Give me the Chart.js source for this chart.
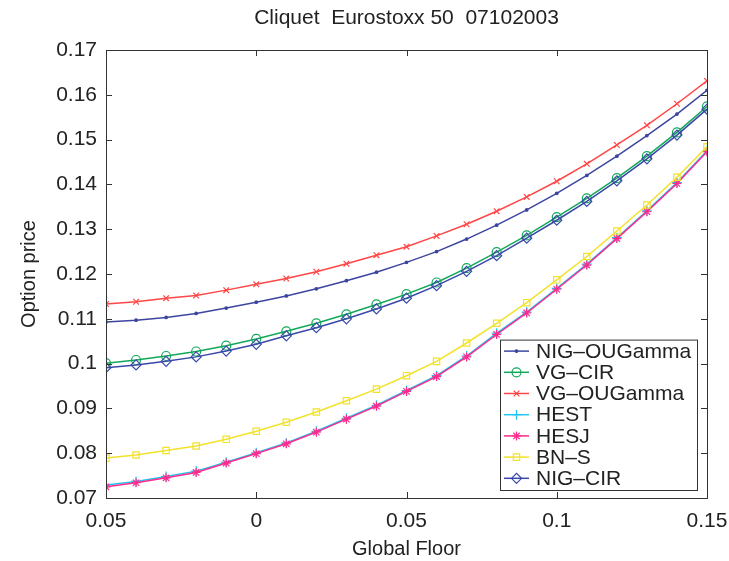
<!DOCTYPE html>
<html>
<head>
<meta charset="utf-8">
<script src="https://cdn.jsdelivr.net/npm/chart.js@4/dist/chart.umd.min.js"></script>
<style>
  html, body { margin: 0; padding: 0; background: #fff; }
  #wrap { width: 729px; height: 561px; position: relative; }
</style>
</head>
<body>
<div id="wrap"><canvas id="c"></canvas></div>
<script>
// global floor values (x axis)
const floors = [-0.05, -0.04, -0.03, -0.02, -0.01, 0, 0.01, 0.02, 0.03, 0.04, 0.05,
  0.06, 0.07, 0.08, 0.09, 0.10, 0.11, 0.12, 0.13, 0.14, 0.15];

const nigOUGamma = [0.1093, 0.1097, 0.1103, 0.1112, 0.1124, 0.1137, 0.1151, 0.1167, 0.1185, 0.1204, 0.1226,
  0.1250, 0.1278, 0.1309, 0.1343, 0.1380, 0.1420, 0.1463, 0.1509, 0.1557, 0.1610];
const vgCIR = [0.1001, 0.1008, 0.1017, 0.1027, 0.1040, 0.1055, 0.1072, 0.1090, 0.1110, 0.1132, 0.1155,
  0.1181, 0.1213, 0.1249, 0.1286, 0.1327, 0.1369, 0.1414, 0.1463, 0.1516, 0.1574];
const vgOUGamma = [0.1133, 0.1138, 0.1146, 0.1152, 0.1164, 0.1177, 0.1190, 0.1205, 0.1223, 0.1242, 0.1261,
  0.1285, 0.1311, 0.1340, 0.1372, 0.1407, 0.1446, 0.1488, 0.1532, 0.1580, 0.1631];
const hest = [0.0729, 0.0737, 0.0748, 0.0760, 0.0780, 0.0801, 0.0823, 0.0849, 0.0878, 0.0907, 0.0940,
  0.0973, 0.1017, 0.1068, 0.1115, 0.1168, 0.1222, 0.1281, 0.1341, 0.1404, 0.1475];
const hesj = [0.0725, 0.0734, 0.0745, 0.0757, 0.0778, 0.0799, 0.0821, 0.0847, 0.0876, 0.0905, 0.0938,
  0.0971, 0.1015, 0.1065, 0.1113, 0.1166, 0.1220, 0.1279, 0.1339, 0.1402, 0.1473];
const bns = [0.0789, 0.0796, 0.0806, 0.0816, 0.0831, 0.0849, 0.0869, 0.0892, 0.0917, 0.0943, 0.0973,
  0.1005, 0.1046, 0.1090, 0.1136, 0.1187, 0.1239, 0.1296, 0.1354, 0.1416, 0.1484];
const nigCIR = [0.0991, 0.0997, 0.1005, 0.1015, 0.1028, 0.1043, 0.1062, 0.1080, 0.1100, 0.1122, 0.1146,
  0.1174, 0.1206, 0.1241, 0.1280, 0.1320, 0.1362, 0.1408, 0.1457, 0.1510, 0.1568];

const xTicks = [-0.05, 0, 0.05, 0.1, 0.15];
const xTickLabels = ['0.05', '0', '0.05', '0.1', '0.15'];
const yTicks = [0.07, 0.08, 0.09, 0.1, 0.11, 0.12, 0.13, 0.14, 0.15, 0.16, 0.17];
const yTickLabels = ['0.07', '0.08', '0.09', '0.1', '0.11', '0.12', '0.13', '0.14', '0.15', '0.16', '0.17'];
const titleText = 'Cliquet  Eurostoxx 50  07102003';

const FONT = "'Liberation Sans', Arial, Helvetica, sans-serif";
const TXT = '#222';

const series = [
  { label: 'NIG\u2013OUGamma', data: nigOUGamma, color: '#3c46a0', style: 'circle', r: 1.3 },
  { label: 'VG\u2013CIR', data: vgCIR, color: '#12a85a', style: 'circle', r: 4.5 },
  { label: 'VG\u2013OUGamma', data: vgOUGamma, color: '#ff4646', style: 'crossRot', r: 4 },
  { label: 'HEST', data: hest, color: '#22c4f0', style: 'cross', r: 5 },
  { label: 'HESJ', data: hesj, color: '#ff2a8c', style: 'star', r: 4.5 },
  { label: 'BN\u2013S', data: bns, color: '#f2e229', style: 'rect', r: 4.5 },
  { label: 'NIG\u2013CIR', data: nigCIR, color: '#3a48a8', style: 'rectRot', r: 5 },
];

const datasets = series.map((s, i) => ({
  label: s.label,
  data: floors.map((x, k) => ({ x, y: s.data[k] })),
  borderColor: s.color,
  backgroundColor: s.color,
  borderWidth: 1.5,
  pointStyle: s.style,
  pointRadius: s.r,
  pointBorderColor: s.color,
  pointBackgroundColor: s.r < 2 ? s.color : 'rgba(0,0,0,0)',
  pointBorderWidth: 1.2,
  tension: 0,
  order: series.length - i,
}));

// title, box, inner ticks and legend drawn like the matlab figure
const framePlugin = {
  id: 'frame',
  afterDatasetsDraw(chart) {
    const { ctx, chartArea: a, scales } = chart;
    ctx.save();
    ctx.fillStyle = TXT;
    ctx.font = '21px ' + FONT;
    ctx.textAlign = 'center';
    ctx.textBaseline = 'middle';
    ctx.fillText(titleText, (a.left + a.right) / 2, 18);

    ctx.strokeStyle = '#333';
    ctx.lineWidth = 1;
    ctx.strokeRect(a.left + 0.5, a.top + 0.5, a.right - a.left, a.bottom - a.top);
    const t = 6;
    ctx.beginPath();
    yTicks.forEach(v => {
      const y = Math.round(scales.y.getPixelForValue(v)) + 0.5;
      ctx.moveTo(a.left, y); ctx.lineTo(a.left + t, y);
      ctx.moveTo(a.right, y); ctx.lineTo(a.right - t, y);
    });
    xTicks.forEach(v => {
      const x = Math.round(scales.x.getPixelForValue(v)) + 0.5;
      ctx.moveTo(x, a.bottom); ctx.lineTo(x, a.bottom - t);
      ctx.moveTo(x, a.top); ctx.lineTo(x, a.top + t);
    });
    ctx.stroke();

    // legend
    const bw = 197, rowH = 21.2, bh = rowH * series.length + 2;
    const bx = a.right - 10 - bw, by = a.bottom - 8 - bh;
    ctx.fillStyle = '#fff';
    ctx.fillRect(bx, by, bw, bh);
    ctx.strokeStyle = '#333';
    ctx.strokeRect(bx + 0.5, by + 0.5, bw, bh);
    ctx.font = '21px ' + FONT;
    ctx.textBaseline = 'middle';
    ctx.textAlign = 'left';
    series.forEach((s, i) => {
      const cy = by + 11.5 + i * rowH;
      ctx.strokeStyle = s.color;
      ctx.fillStyle = s.color;
      ctx.lineWidth = 1.5;
      ctx.beginPath();
      ctx.moveTo(bx + 4, cy); ctx.lineTo(bx + 29, cy);
      ctx.stroke();
      ctx.lineWidth = 1.2;
      if (Chart.helpers && Chart.helpers.drawPoint) {
        ctx.fillStyle = s.r < 2 ? s.color : 'rgba(0,0,0,0)';
        Chart.helpers.drawPoint(ctx, { pointStyle: s.style, radius: s.r, rotation: 0, borderWidth: 1.2 }, bx + 16.5, cy);
      }
      ctx.fillStyle = TXT;
      ctx.fillText(s.label, bx + 36, cy + 1);
    });
    ctx.restore();
  }
};

new Chart(document.getElementById('c'), {
  type: 'line',
  data: { datasets },
  options: {
    responsive: true,
    maintainAspectRatio: false,
    animation: false,
    layout: { padding: { left: 0, right: 22, top: 50, bottom: 0 } },
    plugins: {
      legend: { display: false },
      tooltip: { enabled: false },
      title: { display: false },
    },
    scales: {
      x: {
        type: 'linear',
        min: -0.05, max: 0.15,
        grid: { display: false, drawTicks: false },
        border: { display: false },
        afterBuildTicks: s => { s.ticks = xTicks.map(v => ({ value: v })); },
        ticks: {
          color: TXT, padding: 11,
          font: { family: FONT, size: 21 },
          callback: (v) => xTickLabels[xTicks.findIndex(t => Math.abs(t - v) < 1e-9)],
        },
        title: {
          display: true, text: 'Global Floor', color: TXT,
          font: { family: FONT, size: 20 }, padding: { top: 0, bottom: 0 },
        },
        afterFit: s => { s.height = 63; s.paddingLeft = 0; s.paddingRight = 0; },
      },
      y: {
        min: 0.07, max: 0.17,
        grid: { display: false, drawTicks: false },
        border: { display: false },
        afterBuildTicks: s => { s.ticks = yTicks.map(v => ({ value: v })); },
        ticks: {
          color: TXT, padding: 9,
          font: { family: FONT, size: 21 },
          callback: (v) => yTickLabels[yTicks.findIndex(t => Math.abs(t - v) < 1e-9)],
        },
        title: {
          display: true, text: 'Option price', color: TXT,
          font: { family: FONT, size: 20 }, padding: { top: 17, bottom: 0 },
        },
        afterFit: s => { s.width = 106; s.paddingTop = 0; s.paddingBottom = 0; },
      },
    },
  },
  plugins: [framePlugin],
});
</script>
</body>
</html>
